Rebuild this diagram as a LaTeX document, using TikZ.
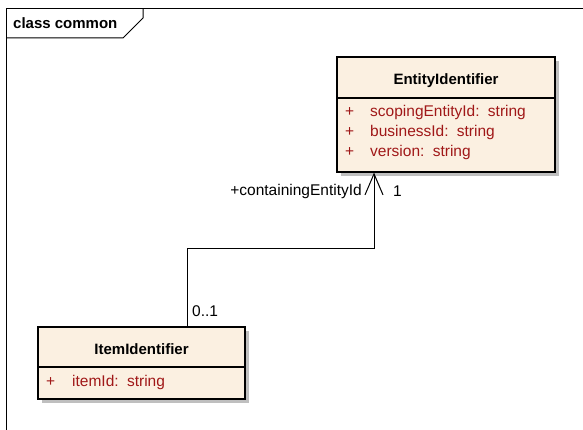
\documentclass[tikz,border=0pt]{standalone}
\usepackage{fontspec}
\setmainfont{Liberation Sans}
\usetikzlibrary{calc}
\usetikzlibrary{arrows.meta, shadows}
\definecolor{classfill}{RGB}{251,240,225}
\definecolor{attrred}{RGB}{160,24,24}

\begin{document}
\begin{tikzpicture}[x=1pt,y=1pt,
	classbox/.style={
		draw, % General options for the class boxes
		line width=1.2pt,
		fill=classfill,
		inner sep=0pt,
		drop shadow={shadow xshift=4pt,shadow yshift=-4pt,fill=black!25,opacity=1},
	},
	classname/.style={font=\fontsize{15}{17}\selectfont\bfseries,inner sep=0pt},
	attr/.style={font=\fontsize{15.5}{17}\selectfont,text=attrred,anchor=west,inner sep=0pt},
	lbl/.style={font=\fontsize{15.5}{17}\selectfont,inner sep=0pt},
	assoc/.style={line width=1pt,-{Straight Barb[length=21pt,width=18pt,line width=1pt]}},
	]
	\useasboundingbox (0,0) rectangle (583,430);

	% diagram frame with its tab
	\draw[line width=1pt] (6,0) -- (6,421) -- (583,421);
	\draw[line width=1pt] (6,392) -- (123,392) -- (143,412) -- (143,421);
	\node[classname,anchor=west] (frame-title) at (13,407) {class common};

	% EntityIdentifier
	\node[classbox,minimum width=218pt,minimum height=115pt] (entity) at (446,315.5) {};
	\draw[line width=1.2pt] (entity.west |- 0,332) -- (entity.east |- 0,332);
	\node[classname] (entity-name) at (446,349) {EntityIdentifier};
	\foreach \a [count=\i] in {scopingEntityId,businessId,version}{
		\node[attr] (entity-plus-\i) at (345,338-\i*20) {+};
		\node[attr] (entity-attr-\i) at (370,338-\i*20) {\a: \,string};
	}

	% ItemIdentifier
	\node[classbox,minimum width=207pt,minimum height=72pt] (item) at (141.5,67) {};
	\draw[line width=1.2pt] (item.west |- 0,63) -- (item.east |- 0,63);
	\node[classname] (item-name) at (141.5,81) {ItemIdentifier};
	\node[attr] (item-plus-1) at (46,48) {+};
	\node[attr] (item-attr-1) at (72,48) {itemId: \,string};

	% association
	\draw[assoc] ([xshift=45.5pt]item.north) -- ++(0,78) -| ([xshift=-72pt]entity.south);
	\node[lbl,anchor=east] (role) at (362,239) {+containingEntityId};
	\node[lbl,anchor=west] (mult-entity) at (393,239) {1};
	\node[lbl,anchor=west] (mult-item) at (192,119) {0..1};

\end{tikzpicture}
\end{document}
